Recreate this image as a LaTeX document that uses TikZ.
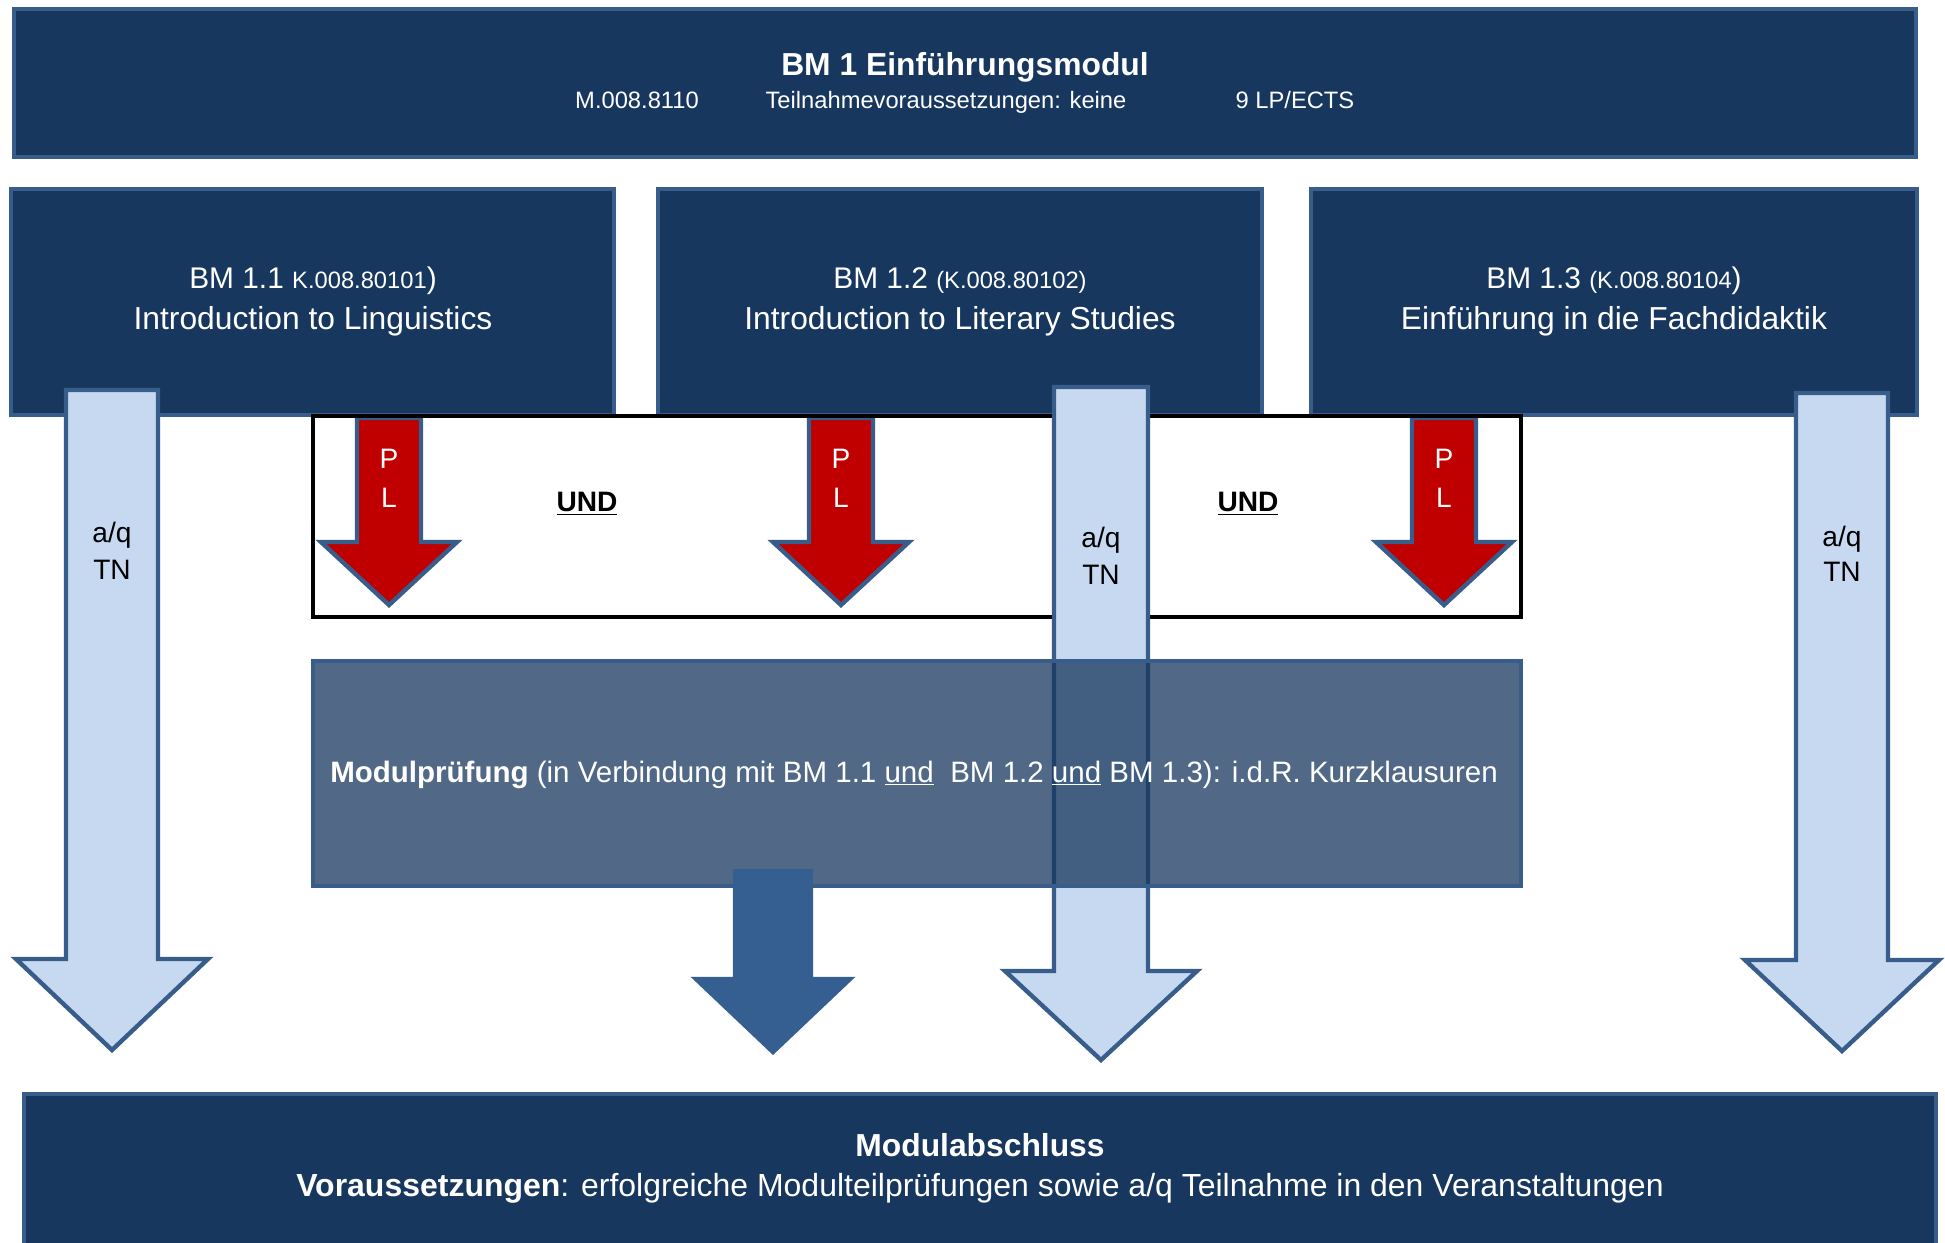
\documentclass[tikz,border=0pt]{standalone}
\usepackage{fontspec}
\setmainfont{Liberation Sans}

\definecolor{navy}{HTML}{17375E}
\definecolor{rim}{HTML}{385D8A}
\definecolor{paleblue}{HTML}{C6D9F1}
\definecolor{midblue}{HTML}{365F91}
\definecolor{plred}{HTML}{C00000}

\begin{document}
\begin{tikzpicture}[
  x=0.02cm, y=-0.02cm,
  line join=miter,
  navybox/.style={draw=rim, fill=navy, line width=2.5pt},
  pruefbox/.style={draw=rim, fill=navy, fill opacity=0.75, line width=2.5pt},
  undbox/.style={draw=black, line width=2.6pt},
  plarrow/.style={draw=rim, fill=plred, line width=2.5pt},
  tnarrow/.style={draw=rim, fill=paleblue, line width=2.5pt},
  endarrow/.style={draw=midblue, fill=midblue, line width=2.5pt},
  wtxt/.style={text=white, inner sep=0pt, anchor=base},
  btxt/.style={text=black, inner sep=0pt, anchor=base},
  big/.style={font=\fontsize{18.1}{22}\selectfont},
  bigbold/.style={font=\bfseries\fontsize{18.1}{22}\selectfont},
  mid/.style={font=\fontsize{16}{20}\selectfont},
  midbold/.style={font=\bfseries\fontsize{16}{20}\selectfont},
  small/.style={font=\fontsize{13.5}{16}\selectfont}
]
\useasboundingbox (0,0) rectangle (1945,1243);

% top module
\draw [navybox] (14,9) rectangle (1916,157);
\node [wtxt, bigbold] (title) at (965,76) {BM 1 Einführungsmodul};
\node [wtxt, small] (code) at (637,109) {M.008.8110};
\node [wtxt, small] (prereq) at (946,109) {Teilnahmevoraussetzungen: keine};
\node [wtxt, small] (credits) at (1295,109) {9 LP/ECTS};

% the three courses
\draw [navybox] (11,189) rectangle (614,415);
\draw [navybox] (658,189) rectangle (1262,415);
\draw [navybox] (1311,189) rectangle (1917,415);
\node [wtxt, font=\fontsize{17}{20}\selectfont] (bm11a) at (313,289) {BM 1.1 {\fontsize{13.5}{16}\selectfont K.008.80101})};
\node [wtxt, big] (bm11b) at (313,330) {Introduction to Linguistics};
\node [wtxt, font=\fontsize{17}{20}\selectfont] (bm12a) at (960,289) {BM 1.2 {\fontsize{13.5}{16}\selectfont (K.008.80102)}};
\node [wtxt, big] (bm12b) at (960,330) {Introduction to Literary Studies};
\node [wtxt, font=\fontsize{17}{20}\selectfont] (bm13a) at (1614,289) {BM 1.3 {\fontsize{13.5}{16}\selectfont (K.008.80104})};
\node [wtxt, big] (bm13b) at (1614,330) {Einführung in die Fachdidaktik};

% PL arrows
\draw [plarrow] (357,418) -- ++(64,0) -- ++(0,124) -- ++(36,0) -- ++(-68,63) -- ++(-68,-63) -- ++(36,0) -- cycle;
\draw [plarrow] (809,418) -- ++(64,0) -- ++(0,124) -- ++(36,0) -- ++(-68,63) -- ++(-68,-63) -- ++(36,0) -- cycle;
\draw [plarrow] (1412,418) -- ++(64,0) -- ++(0,124) -- ++(36,0) -- ++(-68,63) -- ++(-68,-63) -- ++(36,0) -- cycle;
\node [wtxt, mid] (p1) at (389,469) {P};
\node [wtxt, mid] (l1) at (389,508) {L};
\node [wtxt, mid] (p2) at (841,469) {P};
\node [wtxt, mid] (l2) at (841,508) {L};
\node [wtxt, mid] (p3) at (1444,469) {P};
\node [wtxt, mid] (l3) at (1444,508) {L};

\draw [undbox] (313,416) rectangle (1521,617);
\node [btxt, midbold] (und1) at (587,512) {\underline{UND}};
\node [btxt, midbold] (und2) at (1248,512) {\underline{UND}};

% a/q TN arrows
\draw [tnarrow] (66,390) -- ++(92,0) -- ++(0,569) -- ++(50,0) -- ++(-96,91) -- ++(-96,-91) -- ++(50,0) -- cycle;
\draw [tnarrow] (1054,387) -- ++(94,0) -- ++(0,584) -- ++(49,0) -- ++(-96,89) -- ++(-96,-89) -- ++(49,0) -- cycle;
\draw [tnarrow] (1796,393) -- ++(92,0) -- ++(0,567) -- ++(51,0) -- ++(-97,91) -- ++(-97,-91) -- ++(51,0) -- cycle;
\node [btxt, mid] (aq1) at (112,542) {a/q};
\node [btxt, mid] (tn1) at (112,580) {TN};
\node [btxt, mid] (aq2) at (1101,547) {a/q};
\node [btxt, mid] (tn2) at (1101,584) {TN};
\node [btxt, mid] (aq3) at (1842,546) {a/q};
\node [btxt, mid] (tn3) at (1842,582) {TN};

% Modulpruefung
\draw [pruefbox] (313,661) rectangle (1521,886);
\node [wtxt, font=\fontsize{16.8}{20}\selectfont] (pruef) at (914,782) {\textbf{Modulprüfung} (in Verbindung mit BM 1.1 \underline{und}\ \ BM 1.2 \underline{und} BM 1.3): i.d.R. Kurzklausuren};
\draw [endarrow] (735,871) -- ++(76,0) -- ++(0,108) -- ++(39,0) -- ++(-77,73) -- ++(-77,-73) -- ++(39,0) -- cycle;

% Modulabschluss
\draw [navybox] (24,1094) rectangle (1936,1252);
\node [wtxt, bigbold] (abschluss) at (980,1156) {Modulabschluss};
\node [wtxt, font=\fontsize{18.2}{22}\selectfont] (voraus) at (980,1196) {\textbf{Voraussetzungen}: erfolgreiche Modulteilprüfungen sowie a/q Teilnahme in den Veranstaltungen};
\end{tikzpicture}
\end{document}
